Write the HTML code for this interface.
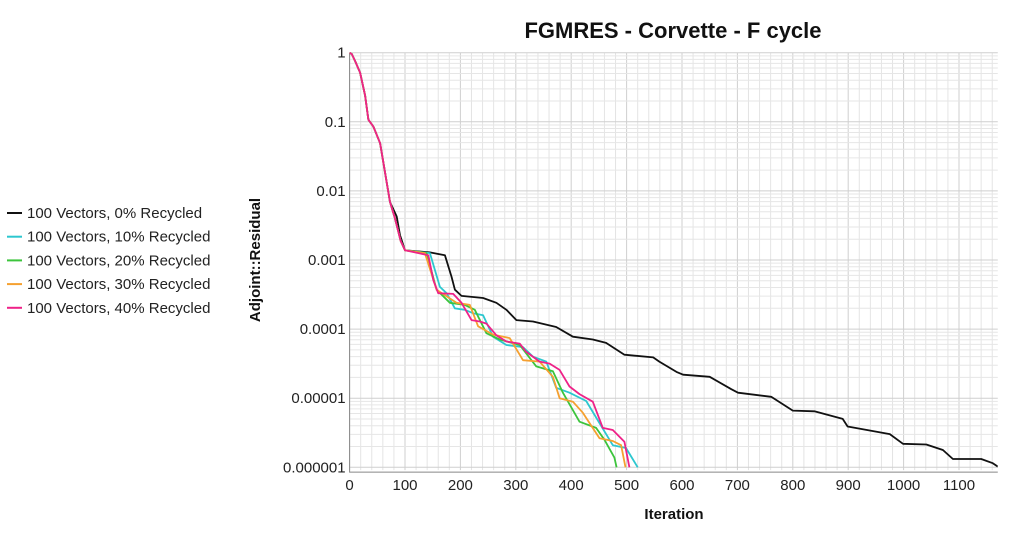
<!DOCTYPE html>
<html><head><meta charset="utf-8"><style>
html,body{margin:0;padding:0;background:#fff;}
body{width:1024px;height:534px;overflow:hidden;font-family:"Liberation Sans",sans-serif;}
</style></head><body>
<svg id="chart" width="1024" height="534" xmlns="http://www.w3.org/2000/svg" font-family="Liberation Sans, sans-serif">
<text x="673" y="38" font-size="22" font-weight="bold" text-anchor="middle" fill="#111">FGMRES - Corvette - F cycle</text>
<text x="674" y="519" font-size="15" font-weight="bold" text-anchor="middle" fill="#111">Iteration</text>
<text transform="translate(260,260) rotate(-90)" font-size="15" font-weight="bold" text-anchor="middle" fill="#111">Adjoint::Residual</text>
<g id="grid"></g>
<g id="axes"></g>
<g id="series"></g>
<g id="legend"></g>
</svg>
<script>
const xTicks=[0,100,200,300,400,500,600,700,800,900,1000,1100];
const yTickExps=[0,-1,-2,-3,-4,-5,-6];
const yTickLabels=["1","0.1","0.01","0.001","0.0001","0.00001","0.000001"];
const seriesNames=["100 Vectors, 0% Recycled","100 Vectors, 10% Recycled","100 Vectors, 20% Recycled","100 Vectors, 30% Recycled","100 Vectors, 40% Recycled"];
const seriesColors=["#111111","#2cc7cf","#3cc43c","#f5a030","#ee2288"];
const commonX=[0,4,10,19,28,34,43,55,64,73];
const commonY=[0,-0.02,-0.12,-0.29,-0.62,-0.97,-1.07,-1.31,-1.74,-2.16];
const s0x=[85,91,100,145,172,184,190,202,241,265,283,301,331,373,403,439,463,496,548,559,590,602,650,689,701,761,800,839,890,899,975,999,1041,1071,1089,1140,1161,1170];
const s0y=[-2.37,-2.64,-2.86,-2.89,-2.93,-3.24,-3.43,-3.52,-3.55,-3.62,-3.72,-3.87,-3.89,-3.97,-4.11,-4.15,-4.2,-4.37,-4.41,-4.47,-4.62,-4.66,-4.69,-4.87,-4.92,-4.98,-5.18,-5.19,-5.3,-5.41,-5.52,-5.66,-5.67,-5.75,-5.88,-5.88,-5.94,-5.99];
const s1x=[82,92,100,145,163,175,190,208,223,241,259,283,313,331,355,373,397,427,451,475,499,520];
const s1y=[-2.4,-2.72,-2.86,-2.9,-3.39,-3.48,-3.7,-3.72,-3.77,-3.8,-4.11,-4.23,-4.26,-4.4,-4.47,-4.85,-4.92,-5.04,-5.36,-5.68,-5.72,-6.0];
const s2x=[82,92,100,139,157,181,208,226,247,271,307,337,367,385,415,445,460,478,482];
const s2y=[-2.4,-2.72,-2.86,-2.9,-3.43,-3.62,-3.65,-3.72,-4.06,-4.15,-4.23,-4.54,-4.61,-4.92,-5.34,-5.43,-5.6,-5.86,-6.0];
const s3x=[82,92,100,136,157,193,217,232,259,289,313,343,367,379,403,421,451,475,490,498];
const s3y=[-2.4,-2.72,-2.86,-2.9,-3.43,-3.62,-3.65,-3.96,-4.08,-4.13,-4.45,-4.47,-4.69,-5.0,-5.05,-5.21,-5.58,-5.62,-5.68,-6.0];
const s4x=[82,92,100,142,151,160,187,202,220,235,247,265,283,307,319,343,361,379,397,415,439,457,475,496,505];
const s4y=[-2.4,-2.72,-2.86,-2.93,-3.29,-3.48,-3.49,-3.62,-3.87,-3.89,-3.92,-4.09,-4.18,-4.21,-4.33,-4.47,-4.5,-4.59,-4.83,-4.94,-5.05,-5.43,-5.46,-5.63,-6.0];

const X0=349.6,XS=0.554,XMAX=1170,Y0=52.7,YS=69.1;
const xs=v=>X0+v*XS, ys=e=>Y0-e*YS;
const NS="http://www.w3.org/2000/svg";
function mk(tag,parent,attrs){const e=document.createElementNS(NS,tag);for(const k in attrs)e.setAttribute(k,attrs[k]);parent.appendChild(e);return e;}
const gridG=document.getElementById('grid'),axesG=document.getElementById('axes'),seriesG=document.getElementById('series'),legendG=document.getElementById('legend');
const plotTop=ys(0),plotBot=ys(-6.04),plotRight=xs(XMAX);
for(let v=0;v<=XMAX;v+=20){const l=mk('line',gridG,{x1:xs(v),x2:xs(v),y1:plotTop,y2:plotBot,stroke:v%100===0?'#cfcfcf':'#e4e4e4','stroke-width':1});

}
for(let d=0;d>-6;d--){for(let m=1;m<10;m++){const y=ys(d-1+Math.log10(m));const l=mk('line',gridG,{x1:X0,x2:plotRight,y1:y,y2:y,stroke:m===1?'#cfcfcf':'#e6e6e6','stroke-width':1});

}}
{const l=mk('line',gridG,{x1:X0,x2:plotRight,y1:plotTop,y2:plotTop,stroke:'#cfcfcf'});

}
const ax=mk('path',axesG,{d:`M${X0},${plotTop}V${plotBot+2}H${plotRight}`,stroke:'#888',fill:'none','stroke-width':1});


xTicks.forEach(v=>{const t=mk('text',axesG,{x:xs(v),y:plotBot+20,'font-size':15,'text-anchor':'middle',fill:'#222'});t.textContent=v;

});
yTickExps.forEach((e,i)=>{const t=mk('text',axesG,{x:X0-4,y:ys(e)+5,'font-size':15,'text-anchor':'end',fill:'#222'});t.textContent=yTickLabels[i];

});
const clip=mk('clipPath',document.getElementById('chart'),{id:'pc'});mk('rect',clip,{x:X0,y:plotTop-2,width:plotRight-X0,height:plotBot-plotTop+3});
const sxArr=[s0x,s1x,s2x,s3x,s4x],syArr=[s0y,s1y,s2y,s3y,s4y];
sxArr.forEach((xa,i)=>{const X=commonX.concat(xa),Y=commonY.concat(syArr[i]);
const d=X.map((v,j)=>(j?'L':'M')+xs(v).toFixed(1)+','+ys(Y[j]).toFixed(1)).join('');
const p=mk('path',seriesG,{d:d,stroke:seriesColors[i],fill:'none','stroke-width':1.8,'stroke-linejoin':'round','clip-path':'url(#pc)'});

});
seriesNames.forEach((n,i)=>{const y=213+i*23.7;const g=mk('g',legendG,{});


mk('line',g,{x1:7,x2:22,y1:y,y2:y,stroke:seriesColors[i],'stroke-width':2});
const t=mk('text',g,{x:27,y:y+5,'font-size':15,fill:'#222'});t.textContent=n;});
</script>
</body></html>
